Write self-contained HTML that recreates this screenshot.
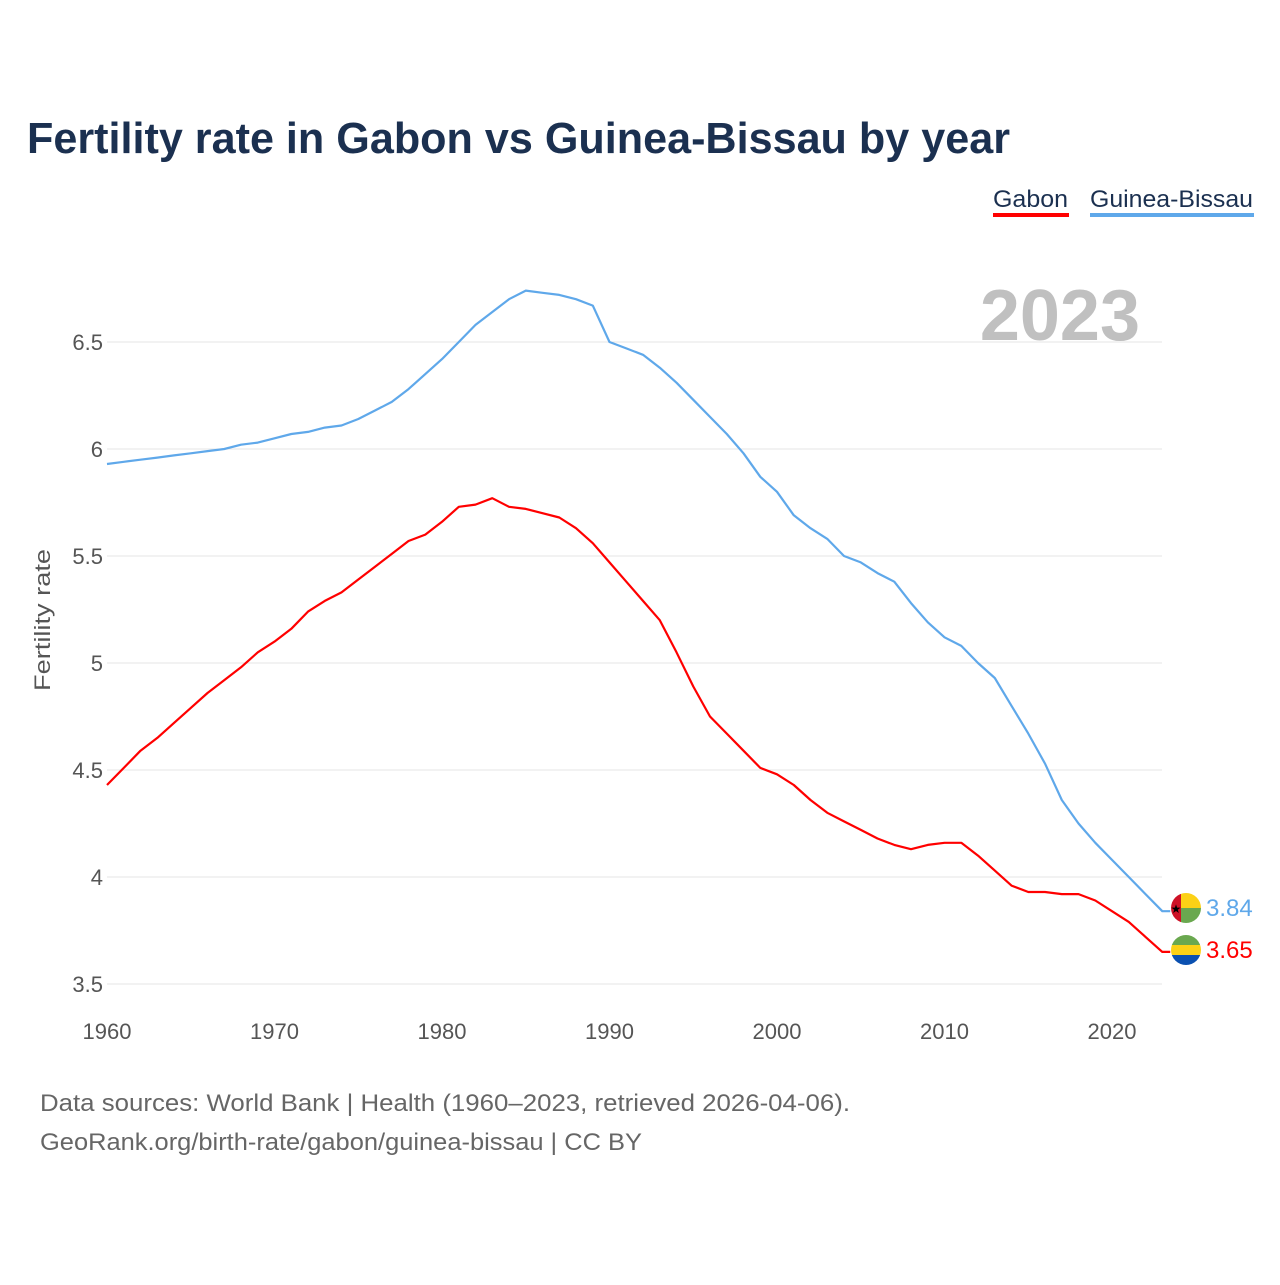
<!DOCTYPE html>
<html><head><meta charset="utf-8"><style>
body{margin:0;background:#fff;}
svg text{font-family:"Liberation Sans",sans-serif;}
</style></head><body>
<svg width="1280" height="1280" viewBox="0 0 1280 1280" xmlns="http://www.w3.org/2000/svg">
<rect width="1280" height="1280" fill="#fff"/>
<text x="27" y="153" font-size="44" font-weight="bold" fill="#1b3050" textLength="983" lengthAdjust="spacingAndGlyphs">Fertility rate in Gabon vs Guinea-Bissau by year</text>
<g>
<text x="993" y="207" font-size="24" fill="#1b3050" textLength="75" lengthAdjust="spacingAndGlyphs">Gabon</text>
<rect x="993" y="213" width="76" height="4" fill="#ff0000"/>
<text x="1090" y="207" font-size="24" fill="#1b3050" textLength="163" lengthAdjust="spacingAndGlyphs">Guinea-Bissau</text>
<rect x="1090" y="213" width="164" height="4" fill="#5fa8ea"/>
</g>
<text x="1140" y="340" font-size="72" font-weight="bold" fill="#c0c0c0" text-anchor="end">2023</text>
<g id="grid"></g>
<g id="yticks"></g>
<g id="xticks"></g>
<text transform="translate(50,620) rotate(-90)" font-size="22" fill="#555" text-anchor="middle" textLength="142" lengthAdjust="spacingAndGlyphs">Fertility rate</text>
<g id="lines"></g>
<g>
<clipPath id="c1"><circle cx="1186" cy="908" r="15"/></clipPath>
<g clip-path="url(#c1)"><rect x="1171" y="893" width="10" height="30" fill="#ce1126"/><rect x="1181" y="893" width="20" height="15" fill="#fcd116"/><rect x="1181" y="908" width="20" height="15" fill="#6aa84f"/></g>
<text x="1176" y="913" font-size="12" text-anchor="middle" fill="#000">★</text>
</g>
<g>
<clipPath id="c2"><circle cx="1186" cy="950" r="15"/></clipPath>
<g clip-path="url(#c2)"><rect x="1171" y="935" width="30" height="10" fill="#6aa84f"/><rect x="1171" y="945" width="30" height="10" fill="#fcd116"/><rect x="1171" y="955" width="30" height="10" fill="#0a50b0"/></g>
</g>
<text x="1206" y="916" font-size="24" fill="#5fa8ea">3.84</text>
<text x="1206" y="958" font-size="24" fill="#ff0000">3.65</text>
<text x="40" y="1111" font-size="24" fill="#666" textLength="810" lengthAdjust="spacingAndGlyphs">Data sources: World Bank | Health (1960–2023, retrieved 2026-04-06).</text>
<text x="40" y="1150" font-size="24" fill="#666" textLength="602" lengthAdjust="spacingAndGlyphs">GeoRank.org/birth-rate/gabon/guinea-bissau | CC BY</text>
</svg>
<script>
const years=[];for(let y=1960;y<=2023;y++)years.push(y);
const gabon=[4.43,4.51,4.59,4.65,4.72,4.79,4.86,4.92,4.98,5.05,5.10,5.16,5.24,5.29,5.33,5.39,5.45,5.51,5.57,5.60,5.66,5.73,5.74,5.77,5.73,5.72,5.70,5.68,5.63,5.56,5.47,5.38,5.29,5.20,5.05,4.89,4.75,4.67,4.59,4.51,4.48,4.43,4.36,4.30,4.26,4.22,4.18,4.15,4.13,4.15,4.16,4.16,4.10,4.03,3.96,3.93,3.93,3.92,3.92,3.89,3.84,3.79,3.72,3.65];
const guinea=[5.93,5.94,5.95,5.96,5.97,5.98,5.99,6.00,6.02,6.03,6.05,6.07,6.08,6.10,6.11,6.14,6.18,6.22,6.28,6.35,6.42,6.50,6.58,6.64,6.70,6.74,6.73,6.72,6.70,6.67,6.50,6.47,6.44,6.38,6.31,6.23,6.15,6.07,5.98,5.87,5.80,5.69,5.63,5.58,5.50,5.47,5.42,5.38,5.28,5.19,5.12,5.08,5.00,4.93,4.80,4.67,4.53,4.36,4.25,4.16,4.08,4.00,3.92,3.84];
const yTicks=[3.5,4,4.5,5,5.5,6,6.5];
const yTickLabels=["3.5","4","4.5","5","5.5","6","6.5"];
const xTicks=[1960,1970,1980,1990,2000,2010,2020];
const NS="http://www.w3.org/2000/svg";
const xs=y=>107+(y-1960)*16.75;
const ys=v=>342+(6.5-v)*214;
const grid=document.getElementById('grid'),yt=document.getElementById('yticks'),xt=document.getElementById('xticks'),lines=document.getElementById('lines');
yTicks.forEach((v,i)=>{
 const l=document.createElementNS(NS,'line');
 l.setAttribute('x1',107);l.setAttribute('x2',1162);l.setAttribute('y1',ys(v));l.setAttribute('y2',ys(v));
 l.setAttribute('stroke','#e6e6e6');l.setAttribute('stroke-width','1');
 
 
 grid.appendChild(l);
 const t=document.createElementNS(NS,'text');
 t.setAttribute('x',103);t.setAttribute('y',ys(v)+8);t.setAttribute('text-anchor','end');t.setAttribute('font-size','22');t.setAttribute('fill','#555');
 t.textContent=yTickLabels[i];
 
 
 yt.appendChild(t);
});
xTicks.forEach(y=>{
 const t=document.createElementNS(NS,'text');
 t.setAttribute('x',xs(y));t.setAttribute('y',1039);t.setAttribute('text-anchor','middle');t.setAttribute('font-size','22');t.setAttribute('fill','#555');
 t.textContent=y;
 
 
 xt.appendChild(t);
});
function draw(vals,color,name){
 const p=document.createElementNS(NS,'path');
 let d=vals.map((v,i)=>(i?'L':'M')+xs(years[i]).toFixed(1)+' '+ys(v).toFixed(1)).join(' ');
 d+=' L'+(xs(2023)+8)+' '+ys(vals[vals.length-1]).toFixed(1);
 p.setAttribute('d',d);p.setAttribute('fill','none');p.setAttribute('stroke',color);p.setAttribute('stroke-width','2.2');p.setAttribute('stroke-linejoin','round');
 
 
 lines.appendChild(p);
}
draw(guinea,'#5fa8ea','line-guinea-bissau');
draw(gabon,'#ff0000','line-gabon');
</script>
</body></html>
